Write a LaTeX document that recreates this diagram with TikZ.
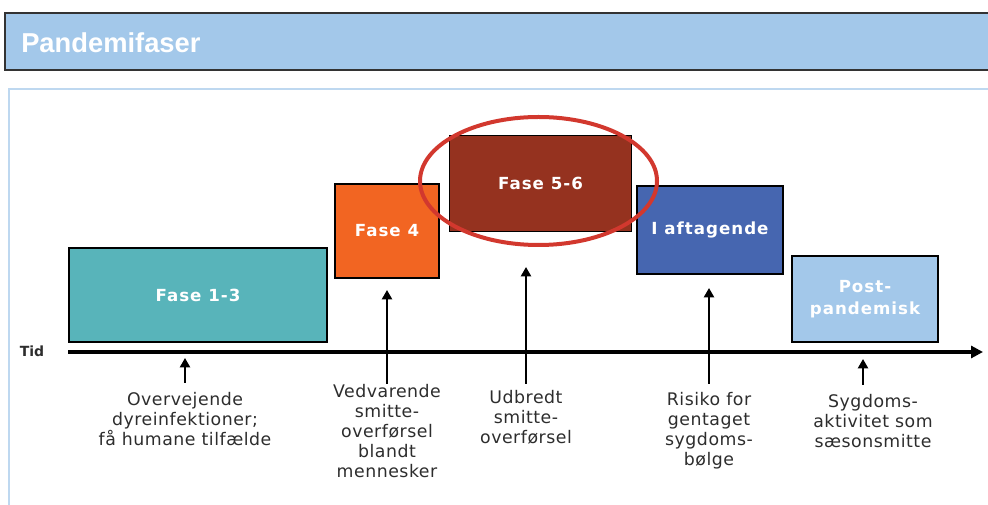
\documentclass[tikz,border=0pt]{standalone}
\usepackage{fontspec}
\usepackage{tikz}
\usetikzlibrary{arrows.meta}
\setmainfont{DejaVu Sans}
\newfontfamily\boxfont[LetterSpace=6]{DejaVu Sans}
\newfontfamily\labfont[LetterSpace=3]{DejaVu Sans}
\newfontfamily\headfont{Liberation Sans}

\definecolor{hdblue}{RGB}{163,200,234}
\definecolor{frameblue}{RGB}{190,216,240}
\definecolor{teal13}{RGB}{88,180,186}
\definecolor{orange4}{RGB}{242,101,34}
\definecolor{red56}{RGB}{149,50,31}
\definecolor{blueaft}{RGB}{70,102,176}
\definecolor{ringred}{RGB}{210,56,46}
\definecolor{labgrey}{RGB}{45,45,45}

\tikzset{
	fase/.style={shape=rectangle,draw=black,line width=0.9pt,text=white,
		align=center,font=\boxfont\bfseries\fontsize{12.5}{17}\selectfont},
	lab/.style={align=center,anchor=north,inner sep=0pt,text=labgrey,
		font=\labfont\fontsize{13}{15}\selectfont},
	pil/.style={line width=1.6pt,-{Triangle[length=7pt,width=7.5pt]}},
}

\begin{document}
\begin{tikzpicture}[x=0.75pt,y=-0.75pt]
	\useasboundingbox (0,0) rectangle (988,505);

	\draw[fill=hdblue,draw=black!80,line width=1.5pt] (5,13) rectangle (1000,70);
	\node[anchor=base west,inner sep=0pt,text=white,font=\headfont\bfseries\fontsize{20.5}{24}\selectfont] (titel) at (21,53) {Pandemifaser};
	\draw[frameblue,line width=1.6pt] (9,89) rectangle (1000,520);

	\node[fase,fill=teal13,minimum width=193.5pt,minimum height=70.5pt] (f13) at (198,295) {Fase 1-3};
	\node[fase,fill=orange4,minimum width=78pt,minimum height=70.5pt] (f4) at (387,231) {Fase 4};
	\node[fase,fill=red56,minimum width=137pt,minimum height=72.5pt] (f56) at (540.5,183.5) {Fase 5-6};
	\node[fase,fill=blueaft,minimum width=109.5pt,minimum height=66pt] (aft) at (710,230) {I aftagende};
	\node[fase,fill=hdblue,minimum width=109.5pt,minimum height=64.5pt] (post) at (865,299) {Post-\\pandemisk};

	\draw[ringred,line width=3pt] (538.5,181) ellipse [x radius=118.5,y radius=64];

	\node[font=\bfseries\fontsize{10.5}{12}\selectfont,text=labgrey,inner sep=0pt] (tid) at (32,351) {Tid};
	\coordinate (t0) at (68,352);
	\coordinate (t1) at (983,352);
	\draw[line width=3.2pt,-{Triangle[length=9pt,width=9pt]}] (t0) -- (t1);

	\node[lab] (lab1) at (185,392) {Overvejende\\dyreinfektioner;\\få humane tilfælde};
	\node[lab] (lab2) at (387,384) {Vedvarende\\smitte-\\overførsel\\blandt\\mennesker};
	\node[lab] (lab3) at (526,390) {Udbredt\\smitte-\\overførsel};
	\node[lab] (lab4) at (709,392) {Risiko for\\gentaget\\sygdoms-\\bølge};
	\node[lab] (lab5) at (873,394) {Sygdoms-\\aktivitet som\\sæsonsmitte};

	\coordinate (b1) at (185,383);
	\coordinate (p1) at (185,358);
	\coordinate (p2) at (387,290);
	\coordinate (p3) at (526,267);
	\coordinate (p4) at (709,288);
	\coordinate (b5) at (863,385);
	\coordinate (p5) at (863,359);

	\draw[pil] (b1) -- (p1);
	\draw[pil] (lab2.north) -- (p2);
	\draw[pil] (lab3.north) ++(0,-6) -- (p3);
	\draw[pil] (lab4.north) ++(0,-8) -- (p4);
	\draw[pil] (b5) -- (p5);
\end{tikzpicture}
\end{document}
